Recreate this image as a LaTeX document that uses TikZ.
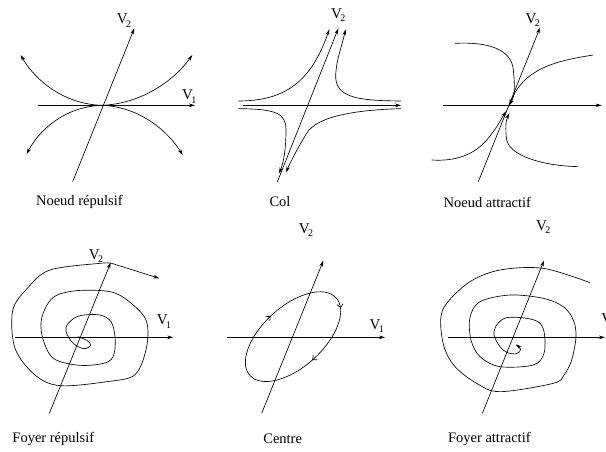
\documentclass[tikz,border=0pt]{standalone}
\usepackage{fontspec}
\setmainfont{Liberation Serif}
\usetikzlibrary{arrows.meta,decorations.markings}
\newcommand{\vsub}[1]{V\kern-1.6pt\raisebox{-3.2pt}{\fontsize{10}{10}\selectfont #1}}
\begin{document}
\begin{tikzpicture}[x=1pt,y=-1pt, line width=0.65pt,
  tip/.style={-{Stealth[length=6pt,width=3.6pt]}},
  vl/.style={font=\fontsize{15}{15}\selectfont, inner sep=0pt},
  captext/.style={font=\fontsize{14.5}{16}\selectfont, inner sep=0pt},
  barb/.style={decoration={markings,
     mark=at position 0.26 with {\arrowreversed{Straight Barb[length=3.5pt,width=6pt,line width=0.65pt]}},
     mark=at position 0.745 with {\arrowreversed{Straight Barb[length=3.5pt,width=6pt,line width=0.65pt]}},
     mark=at position 0.96 with {\arrowreversed{Straight Barb[length=3.5pt,width=6pt,line width=0.65pt]}}},
     postaction=decorate}]
\useasboundingbox (0,0) rectangle (606,452);

% ---------- Panel 1 : Noeud repulsif ----------
\begin{scope}[shift={(0,0)}, scale=1/3]
  \coordinate (A1) at (115,316); \coordinate (B1) at (585,316);
  \coordinate (C1) at (218,545); \coordinate (D1) at (403,85);
  \coordinate (O1) at (305,316);
  \coordinate (E1) at (62,165);  \coordinate (F1) at (577,165);
  \coordinate (G1) at (80,462);  \coordinate (H1) at (548,465);
  \draw[tip] (A1) -- (B1);
  \draw[tip] (C1) -- (D1);
  \draw[tip] (O1) .. controls (190,312) and (105,240) .. (E1);
  \draw[tip] (O1) .. controls (420,312) and (520,245) .. (F1);
  \draw[tip] (O1) .. controls (190,320) and (115,395) .. (G1);
  \draw[tip] (O1) .. controls (420,320) and (505,395) .. (H1);
  \node[vl] (v1a) at (568,290) {\vsub1};
  \node[vl] (v2a) at (372,62) {\vsub2};
  \node[captext] (n1) at (238,606) {Noeud répulsif};
\end{scope}

% ---------- Panel 2 : Col ----------
\begin{scope}[shift={(200,0)}, scale=1/3]
  \coordinate (A2) at (128,316); \coordinate (B2) at (603,316);
  \coordinate (C2) at (232,546); \coordinate (D2) at (415,85);
  \coordinate (E2s) at (115,303); \coordinate (E2) at (388,88);
  \coordinate (F2s) at (603,303); \coordinate (F2) at (437,88);
  \coordinate (G2s) at (115,326); \coordinate (G2) at (237,520);
  \coordinate (H2s) at (603,326); \coordinate (H2) at (258,517);
  \draw[tip] (A2) -- (B2);
  \draw[tip] (C2) -- (D2);
  \draw[tip] (E2s) .. controls (260,303) and (335,240) .. (E2);
  \draw[tip] (F2s) .. controls (470,302) and (405,292) .. (407,225)
                   .. controls (409,180) and (425,140) .. (F2);
  \draw[tip] (G2s) .. controls (230,327) and (258,340) .. (258,390)
                   .. controls (258,450) and (250,490) .. (G2);
  \draw[tip] (H2s) .. controls (460,330) and (350,350) .. (320,400)
                   .. controls (295,440) and (272,485) .. (H2);
  \node[vl] (v2b) at (415,45) {\vsub2};
  \node[captext] (n2) at (240,606) {Col};
\end{scope}

% ---------- Panel 3 : Noeud attractif ----------
\begin{scope}[shift={(400,0)}, scale=1/3]
  \coordinate (A3) at (130,316); \coordinate (B3) at (605,316);
  \coordinate (C3) at (235,545); \coordinate (D3) at (420,83);
  \coordinate (O3) at (328,316);
  \coordinate (E3) at (165,130); \coordinate (F3) at (580,165);
  \coordinate (G3) at (95,480);  \coordinate (H3) at (535,500);
  \coordinate (G3e) at (318,334); \coordinate (H3e) at (328,340);
  \draw[tip] (A3) -- (B3);
  \draw[tip] (C3) -- (D3);
  \draw[tip] (E3) .. controls (270,125) and (335,150) .. (340,210)
                  .. controls (345,262) and (345,285) .. (O3);
  \draw[tip] (F3) .. controls (470,182) and (370,205) .. (O3);
  \draw[tip] (G3) .. controls (170,485) and (225,462) .. (262,418)
                  .. controls (290,385) and (305,355) .. (G3e);
  \draw[tip] (H3) .. controls (420,497) and (330,465) .. (320,420)
                  .. controls (315,385) and (318,360) .. (H3e);
  \node[vl] (v2c) at (398,60) {\vsub2};
  \node[captext] (n3) at (262,606) {Noeud attractif};
\end{scope}

% ---------- Panel 4 : Foyer repulsif ----------
\begin{scope}[shift={(0,220)}, scale=1/3]
  \coordinate (A4) at (45,352); \coordinate (B4) at (520,352);
  \coordinate (C4) at (148,580); \coordinate (D4) at (332,128);
  \coordinate (T4) at (478,175);
  \draw[tip] (A4) -- (B4);
  \draw[tip] (C4) -- (D4);
  \draw[tip] plot[smooth, tension=0.55] coordinates {
    (235,350) (262,362) (272,376) (252,386) (222,372) (202,345) (198,322)
    (215,300) (245,286) (300,285) (333,305) (345,350) (342,402) (318,428)
    (240,436) (160,415) (127,350) (126,290) (160,232) (230,212) (330,215)
    (385,243) (438,300) (440,380) (405,464) (320,485) (180,497) (105,465)
    (45,385) (38,272) (82,205) (150,150) (300,130) (335,130)} -- (T4);
  \node[vl] (v1d) at (492,305) {\vsub1};
  \node[vl] (v2d) at (288,108) {\vsub2};
  \node[captext] (n4) at (160,657) {Foyer répulsif};
\end{scope}

% ---------- Panel 5 : Centre ----------
\begin{scope}[shift={(200,220)}, scale=1/3]
  \coordinate (A5) at (82,352); \coordinate (B5) at (555,352);
  \coordinate (C5) at (185,580); \coordinate (D5) at (370,122);
  \coordinate (E5) at (279,350);
  \draw[tip] (A5) -- (B5);
  \draw[tip] (C5) -- (D5);
  \draw[barb, rotate around={42:(E5)}] (E5) ellipse [x radius=174pt, y radius=91pt];
  \node[vl] (v1e) at (530,318) {\vsub1};
  \node[vl] (v2e) at (318,30) {\vsub2};
  \node[captext] (n5) at (248,657) {Centre};
\end{scope}

% ---------- Panel 6 : Foyer attractif ----------
\begin{scope}[shift={(400,220)}, scale=1/3]
  \coordinate (A6) at (145,352); \coordinate (B6) at (615,352);
  \coordinate (C6) at (247,580); \coordinate (D6) at (432,122);
  \draw[tip] (A6) -- (B6);
  \draw[tip] (C6) -- (D6);
  \draw[tip] plot[smooth, tension=0.55] coordinates {
    (570,188) (430,145) (300,150) (210,185) (140,250) (122,300) (132,380)
    (165,440) (230,490) (300,515) (460,490) (492,465) (515,420) (528,350)
    (520,300) (490,260) (430,235) (330,225) (240,245) (210,292) (213,360)
    (240,410) (300,440) (400,435) (432,400) (433,340) (418,308) (380,295)
    (320,293) (290,315) (282,345) (300,380) (322,398) (350,401) (362,388)
    (347,373)};
  \node[vl, anchor=west] (v1f) at (603,300) {\vsub1};
  \node[vl] (v2f) at (430,22) {\vsub2};
  \node[captext] (n6) at (268,657) {Foyer attractif};
\end{scope}
\end{tikzpicture}
\end{document}
